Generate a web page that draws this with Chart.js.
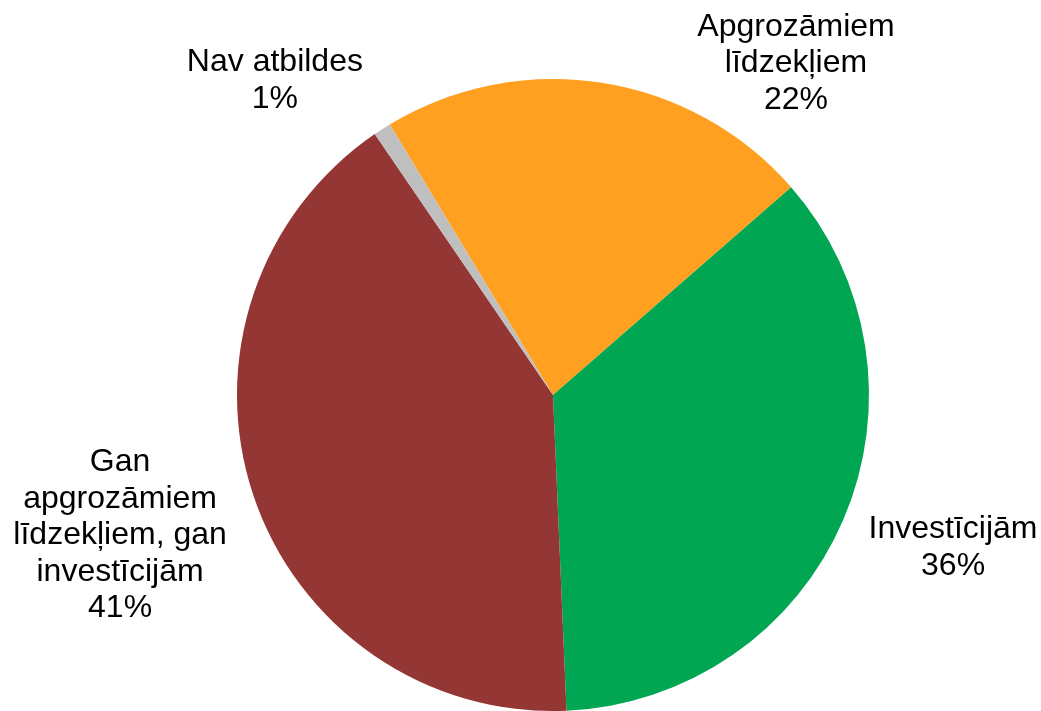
<!DOCTYPE html>
<html>
<head>
    <meta charset="utf-8">
    <style>
        html, body { margin: 0; padding: 0; background: #ffffff; }
        #chartContainer { width: 1041px; height: 711px; }
    </style>
</head>
<body>
    <div id="chartContainer">
        <canvas id="myChart"></canvas>
    </div>

<script src="https://cdn.jsdelivr.net/npm/chart.js@4.4.0/dist/chart.umd.min.js"></script>
<script>
    // data (share of answers, %)
    var categories = [
        ['Apgrozāmiem', 'līdzekļiem'],
        ['Investīcijām'],
        ['Gan', 'apgrozāmiem', 'līdzekļiem, gan', 'investīcijām'],
        ['Nav atbildes']
    ];
    var shares = [22.2, 35.7, 41.1, 0.9];
    var colors = ['#FFA020', '#00A651', '#943634', '#BFBFBF'];

    // where each label block sits, in pie radii from the centre
    var labelOffsets = [[0.769, -1.050], [1.266, 0.483], [-1.370, 0.445], [-0.880, -0.995]];

    var outsideLabels = {
        id: 'outsideLabels',
        afterDraw: function (chart) {
            var ctx = chart.ctx;
            var arcs = chart.getDatasetMeta(0).data;
            var total = shares.reduce(function (a, b) { return a + b; }, 0);
            var lineH = 36.5;
            ctx.save();
            ctx.font = '32px "Liberation Sans", Arial, sans-serif';
            ctx.fillStyle = '#000000';
            ctx.textAlign = 'center';
            ctx.textBaseline = 'middle';
            arcs.forEach(function (arc, i) {
                var lines = categories[i].concat([Math.round(shares[i] / total * 100) + '%']);
                var cx = arc.x + labelOffsets[i][0] * arc.outerRadius;
                var cy = arc.y + labelOffsets[i][1] * arc.outerRadius;
                var y0 = cy - (lines.length - 1) * lineH / 2;
                lines.forEach(function (t, k) {
                    ctx.fillText(t, cx, y0 + k * lineH);
                });
            });
            ctx.restore();
        }
    };

    var ctx = document.getElementById('myChart').getContext('2d');
    var myPieChart = new Chart(ctx, {
        type: 'pie',
        data: {
            labels: categories.map(function (c) { return c.join(' '); }),
            datasets: [{
                data: shares,
                backgroundColor: colors,
                borderWidth: 0
            }]
        },
        options: {
            responsive: true,
            maintainAspectRatio: false,
            animation: false,
            rotation: -31.1,
            layout: { padding: { left: 237, right: 172, top: 79, bottom: 0 } },
            plugins: {
                legend: { display: false },
                tooltip: { enabled: false }
            }
        },
        plugins: [outsideLabels]
    });
</script>
</body>
</html>
